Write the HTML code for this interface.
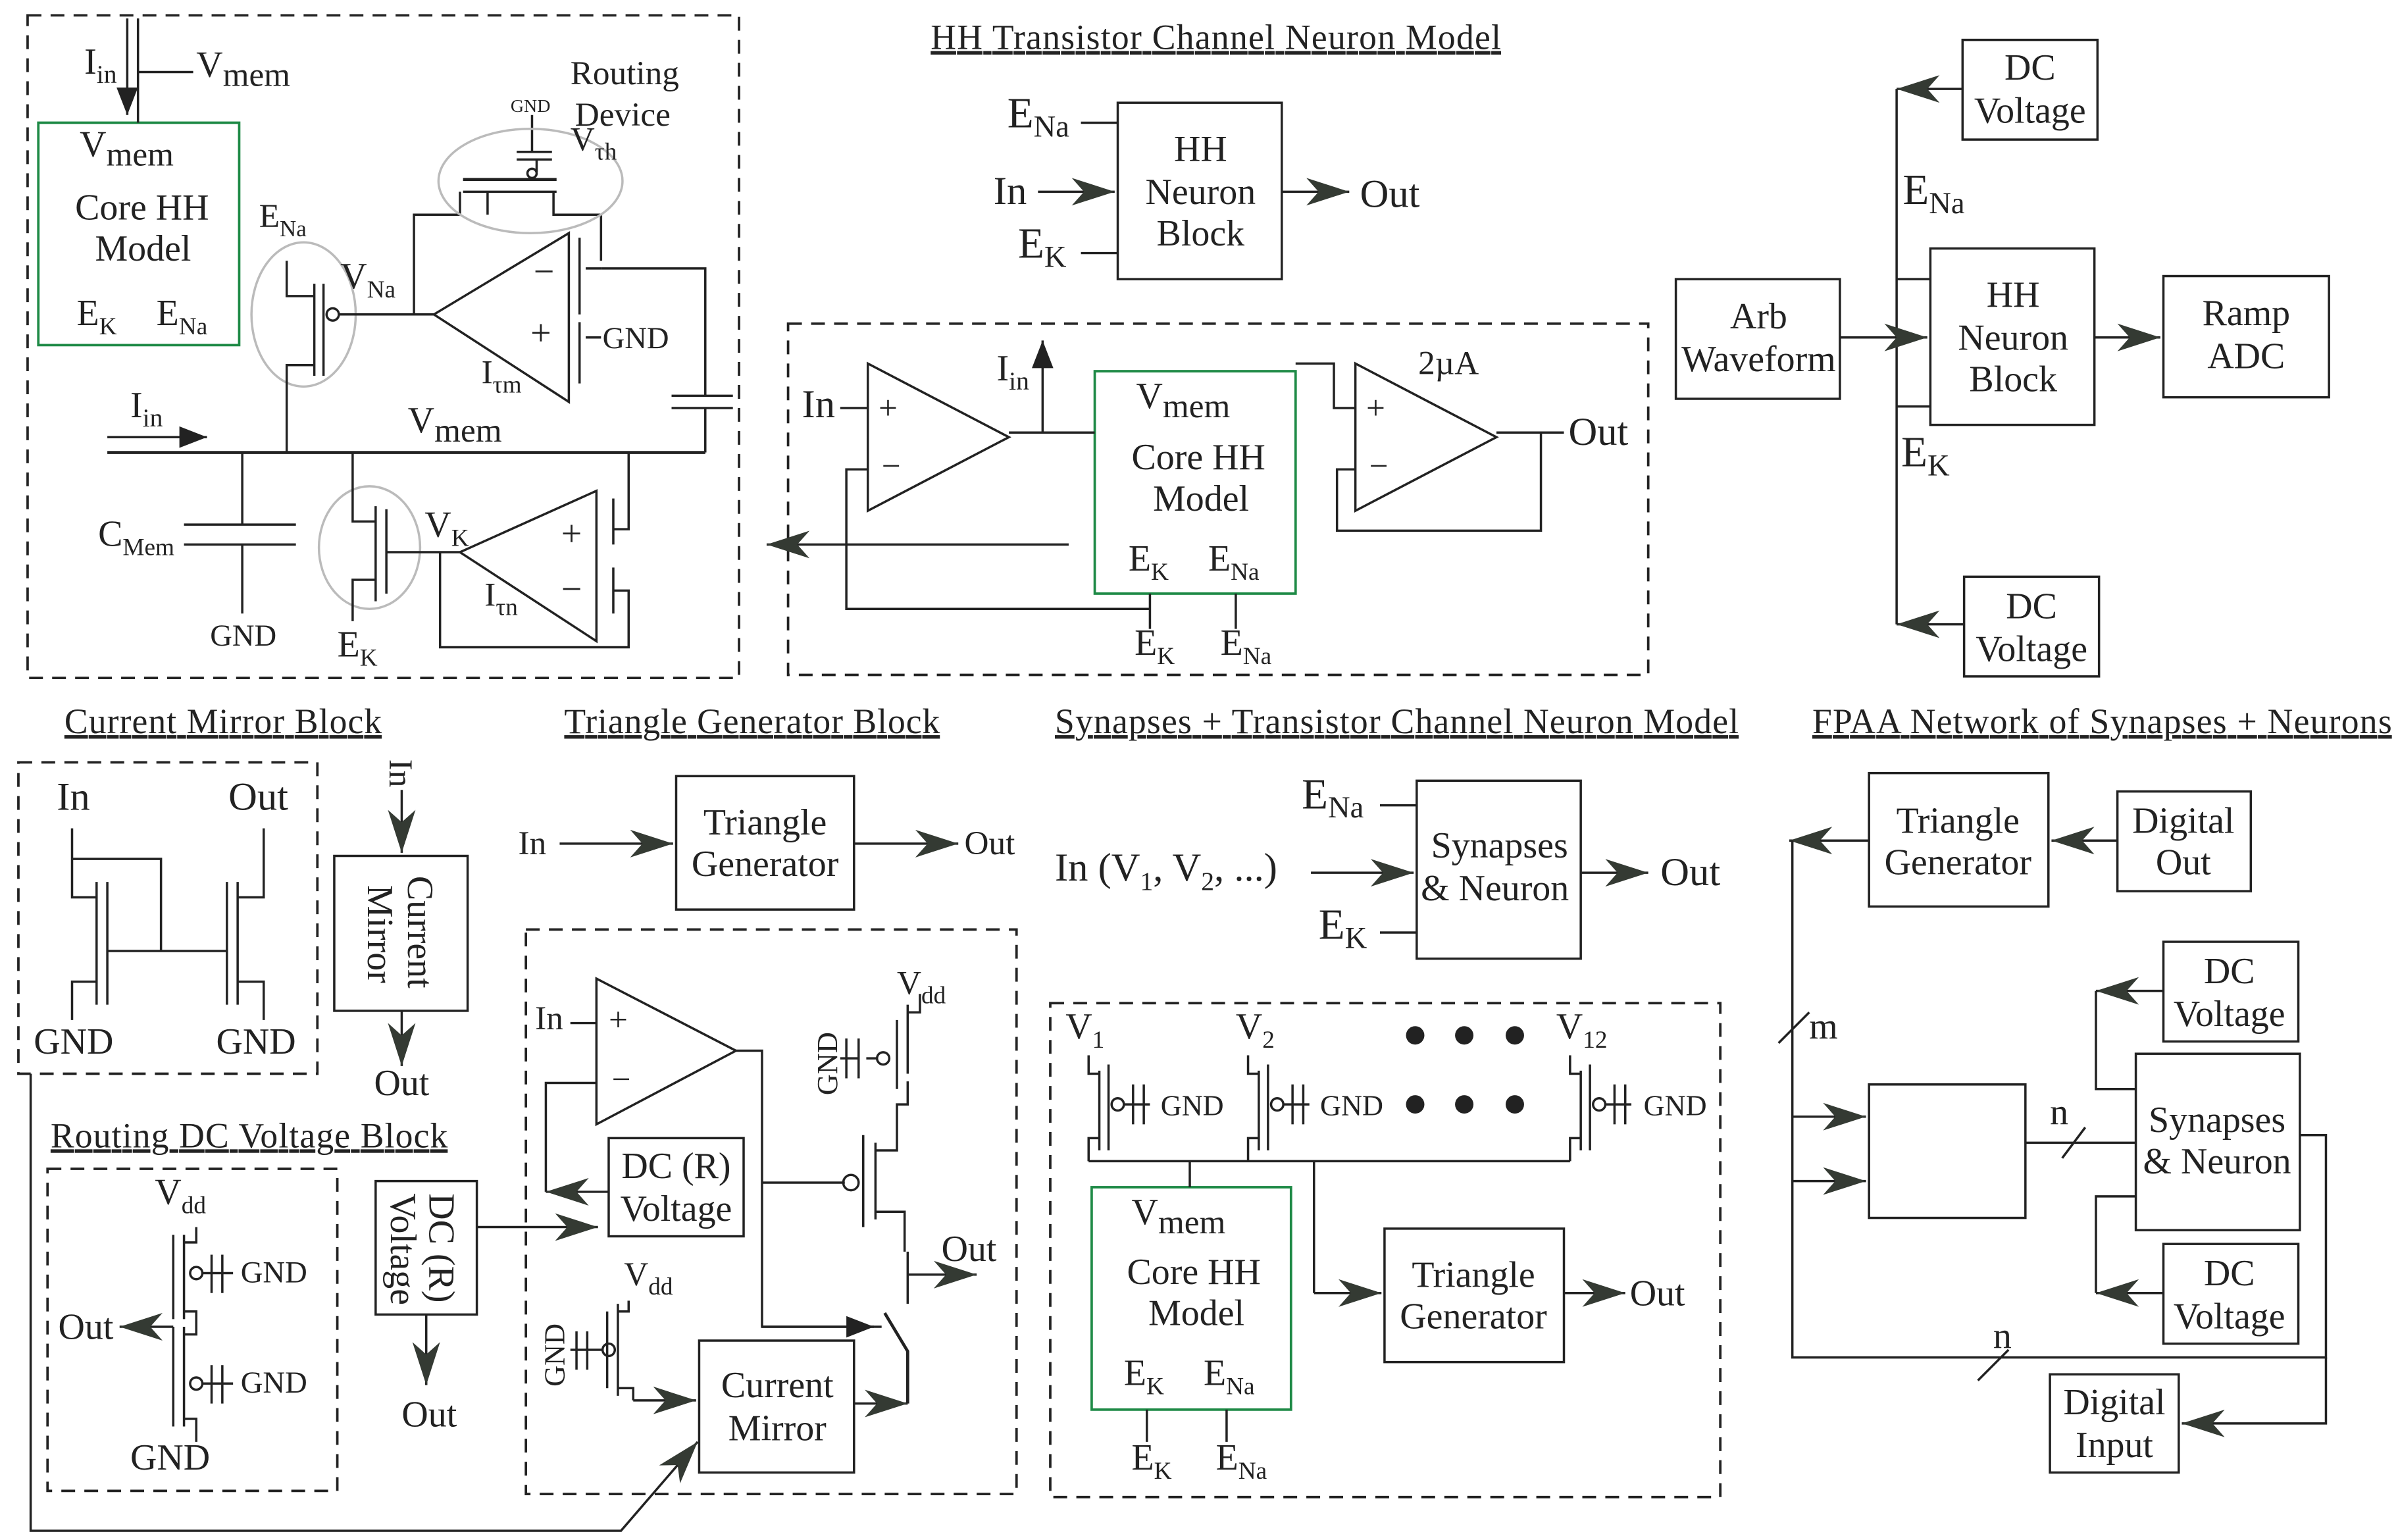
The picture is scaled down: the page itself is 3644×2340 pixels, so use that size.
<!DOCTYPE html>
<html><head><meta charset="utf-8"><style>
html,body{margin:0;padding:0;background:#fff;}
svg{display:block;}
text{font-family:"Liberation Serif",serif;fill:#222;}
</style></head><body>
<svg width="3644" height="2340" viewBox="0 0 1564 1004" preserveAspectRatio="none" xmlns="http://www.w3.org/2000/svg">
<defs>
<marker id="a" markerUnits="userSpaceOnUse" markerWidth="30" markerHeight="20" refX="28" refY="10" orient="auto" viewBox="0 0 30 20">
<path d="M0,1 L28,10 L0,19 L8,10 Z" fill="#343a33"/></marker>
<marker id="b" markerUnits="userSpaceOnUse" markerWidth="20" markerHeight="20" refX="18" refY="8" orient="auto" viewBox="0 0 20 16">
<path d="M0,1 L18,8 L0,15 Z" fill="#222"/></marker>
</defs>
<rect width="1564" height="1004" fill="#fff"/>
<g fill="none" stroke="#222" stroke-width="1.5">
<g stroke-dasharray="9,6" stroke-width="1.6">
<rect x="18" y="10" width="464" height="432"/>
<rect x="514" y="211" width="561" height="229"/>
<rect x="12" y="497" width="195" height="203"/>
<rect x="31" y="762" width="189" height="210"/>
<rect x="343" y="606" width="320" height="368"/>
<rect x="685" y="654" width="437" height="322"/>
</g>
<g stroke="#1e8a46" stroke-width="1.6">
<rect x="25" y="80" width="131" height="145"/>
<rect x="714" y="242" width="131" height="145"/>
<rect x="712" y="774" width="130" height="145"/>
</g>
<rect x="729" y="67" width="107" height="115"/>
<rect x="1280" y="26" width="88" height="65"/>
<rect x="1093" y="182" width="107" height="78"/>
<rect x="1259" y="162" width="107" height="115"/>
<rect x="1411" y="180" width="108" height="79"/>
<rect x="1281" y="376" width="88" height="65"/>
<rect x="218" y="558" width="87" height="101"/>
<rect x="245" y="770" width="66" height="87"/>
<rect x="441" y="506" width="116" height="87"/>
<rect x="397" y="742" width="88" height="64"/>
<rect x="456" y="874" width="101" height="86"/>
<rect x="924" y="509" width="107" height="116"/>
<rect x="903" y="801" width="117" height="87"/>
<rect x="1219" y="504" width="117" height="87"/>
<rect x="1381" y="516" width="87" height="65"/>
<rect x="1219" y="707" width="102" height="87"/>
<rect x="1393" y="687" width="107" height="115"/>
<rect x="1411" y="614" width="88" height="65"/>
<rect x="1411" y="811" width="88" height="65"/>
<rect x="1337" y="896" width="84" height="64"/>

<!-- top-left circuit -->
<path d="M83,12 V75" marker-end="url(#b)"/>
<path d="M90,12 V80 M90,47 H126"/>
<ellipse cx="198" cy="205" rx="34" ry="47" stroke="#bbb"/>
<path d="M187,170 V193 H205 M205,185 V245 M211,185 V245 M205,238 H187 V295"/>
<circle cx="217" cy="205" r="4"/>
<path d="M221,205 H283"/>
<path d="M371,152 V262 L283,205 Z"/>
<path d="M270,205 V140 H300 V125 M361,125 V140 H392 V170 M392,175 H460 V258"/>
<path d="M302,117 H363" stroke-width="2"/>
<path d="M302,125 H363"/>
<path d="M318,125 V140 M350,112 V104 M337,104 H360 M337,99 H360 M347,99 V75"/>
<circle cx="347" cy="113" r="3"/>
<ellipse cx="346" cy="118" rx="60" ry="34" stroke="#bbb"/>
<path d="M378,155 V205 M378,210 V250 M382,175 H392 M382,220 H392"/>
<path d="M438,258 H478 M438,266 H478 M460,266 V295"/>
<path d="M70,285 H135" marker-end="url(#b)"/>
<path d="M70,295 H460" stroke-width="2"/>
<path d="M158,295 V342 M120,342 H193 M120,355 H193 M158,355 V400"/>
<ellipse cx="241" cy="357" rx="33" ry="40" stroke="#bbb"/>
<path d="M230,295 V340 H245 M245,330 V392 M252,332 V387 M252,360 H300 M245,378 H230 V405"/>
<path d="M389,320 V418 L300,360 Z"/>
<path d="M287,360 V422 H410 V385 H400 M400,370 V400 M400,325 V355 M400,345 H410 V295"/>

<!-- HH top -->
<path d="M705,80 H729 M705,165 H729"/>
<path d="M677,125 H727" marker-end="url(#a)"/>
<path d="M836,125 H880" marker-end="url(#a)"/>
<path d="M566,237 V333 L658,285 Z"/>
<path d="M548,266 H566 M658,282 H714"/>
<path d="M680,282 V222" marker-end="url(#b)"/>
<path d="M566,306 H552 V397 H750 V410 M750,387 V397 M806,387 V410"/>
<path d="M697,355 H500" marker-end="url(#a)"/>
<path d="M884,237 V333 L976,285 Z"/>
<path d="M845,237 H870 V266 H884 M976,282 H1020 M1005,282 V346 H872 V306 H884"/>

<!-- right top -->
<path d="M1237,58 V407 M1237,182 H1259 M1237,265 H1259"/>
<path d="M1280,58 H1237" marker-end="url(#a)"/>
<path d="M1281,407 H1237" marker-end="url(#a)"/>
<path d="M1200,220 H1257" marker-end="url(#a)"/>
<path d="M1366,220 H1409" marker-end="url(#a)"/>

<!-- current mirror -->
<path d="M47,540 V585 H63 M63,575 V655 M70,575 V655 M63,640 H47 V665 M47,560 H105 V620 M70,620 H148 M148,575 V655 M155,575 V655 M172,540 V585 H155 M155,640 H172 V665"/>
<path d="M262,515 V556" marker-end="url(#a)"/>
<path d="M262,659 V695" marker-end="url(#a)"/>
<path d="M20,700 V998 H405 L455,940" marker-end="url(#a)"/>

<!-- routing dc -->
<path d="M128,800 V810 H120 M120,805 V860 M113,805 V860 M120,855 H128 V870 H120 M120,865 V930 M113,865 V930 M120,925 H128 V940"/>
<circle cx="128" cy="830" r="4"/><circle cx="128" cy="902" r="4"/>
<path d="M132,830 H152 M138,818 V843 M145,818 V843 M132,902 H152 M138,890 V915 M145,890 V915"/>
<path d="M113,865 H78" marker-end="url(#a)"/>
<path d="M311,800 H390" marker-end="url(#a)"/>
<path d="M278,857 V903" marker-end="url(#a)"/>

<!-- triangle generator -->
<path d="M365,550 H439" marker-end="url(#a)"/>
<path d="M557,550 H625" marker-end="url(#a)"/>
<path d="M389,638 V733 L480,685 Z"/>
<path d="M372,667 H389 M480,685 H497 V865 H575"/>
<path d="M497,865 H570" marker-end="url(#b)"/>
<path d="M389,706 H356 V777"/>
<path d="M397,777 H356" marker-end="url(#a)"/>
<path d="M497,771 H551"/><circle cx="555" cy="771" r="5"/>
<path d="M563,740 V800 M571,745 V795 M571,750 H585 V720 H592 V705 M592,700 V655 M585,665 V710 M592,660 H600 V648 M571,790 H590 V816 M592,816 V850"/>
<circle cx="576" cy="690" r="4"/>
<path d="M548,690 H560 M552,677 V703 M560,677 V703 M565,690 H572"/>
<path d="M592,831 H637" marker-end="url(#a)"/>
<path d="M410,848 V855 H403 M403,850 V910 M396,855 V905 M403,905 H413 V913"/>
<circle cx="397" cy="880" r="4"/>
<path d="M393,880 H372 M376,868 V893 M383,868 V893"/>
<path d="M413,913 H454" marker-end="url(#a)"/>
<path d="M557,915 H592" marker-end="url(#a)"/>
<path d="M592,915 V881 L577,856" stroke-width="2"/>

<!-- synapses -->
<path d="M900,525 H924 M900,608 H924"/>
<path d="M855,569 H922" marker-end="url(#a)"/>
<path d="M1031,569 H1075" marker-end="url(#a)"/>
<path d="M710,688 V700 H717 M717,698 V750 M723,694 V750 M717,742 H710 V757
 M814,688 V700 H821 M821,698 V750 M827,694 V750 M821,742 H814 V757
 M1024,688 V700 H1031 M1031,698 V750 M1037,694 V750 M1031,742 H1024 V757"/>
<circle cx="729" cy="720" r="4"/><circle cx="833" cy="720" r="4"/><circle cx="1043" cy="720" r="4"/>
<path d="M733,720 H750 M739,707 V733 M746,707 V733 M837,720 H854 M843,707 V733 M850,707 V733 M1047,720 H1064 M1053,707 V733 M1060,707 V733"/>
<path d="M710,757 H1024 M776,757 V774 M857,757 V843"/>
<path d="M857,843 H901" marker-end="url(#a)"/>
<path d="M1020,843 H1060" marker-end="url(#a)"/>
<path d="M748,919 V940 M800,919 V940"/>

<!-- FPAA -->
<path d="M1381,548 H1338" marker-end="url(#a)"/>
<path d="M1219,548 H1167" marker-end="url(#a)"/>
<path d="M1169,548 V885 H1517 V740 H1500"/>
<path d="M1160,680 L1180,660 M1290,900 L1310,880 M1345,755 L1360,735"/>
<path d="M1169,728 H1217" marker-end="url(#a)"/>
<path d="M1169,770 H1217" marker-end="url(#a)"/>
<path d="M1321,745 H1393"/>
<path d="M1367,646 V710 H1393 M1393,780 H1367 V843"/>
<path d="M1411,646 H1367" marker-end="url(#a)"/>
<path d="M1411,843 H1367" marker-end="url(#a)"/>
<path d="M1517,885 V928 H1423" marker-end="url(#a)"/>
</g>

<g fill="#222" stroke="none">
<circle cx="923" cy="675" r="6"/><circle cx="955" cy="675" r="6"/><circle cx="988" cy="675" r="6"/>
<circle cx="923" cy="720" r="6"/><circle cx="955" cy="720" r="6"/><circle cx="988" cy="720" r="6"/>
</g>

<g font-size="24">
<text x="55" y="48">I<tspan font-size="17" dy="6">in</tspan></text>
<text x="128" y="50">V<tspan font-size="22" dy="6">mem</tspan></text>
<text x="52" y="102">V<tspan font-size="22" dy="6">mem</tspan></text>
<text x="49" y="143">Core HH</text>
<text x="62" y="170">Model</text>
<text x="50" y="212">E<tspan font-size="16" dy="6">K</tspan></text>
<text x="102" y="212">E<tspan font-size="16" dy="6">Na</tspan></text>
<text x="169" y="148" font-size="22">E<tspan font-size="15" dy="6">Na</tspan></text>
<text x="222" y="188">V<tspan font-size="16" dy="6">Na</tspan></text>
<text x="372" y="55" font-size="22">Routing</text>
<text x="375" y="82" font-size="22">Device</text>
<text x="333" y="73" font-size="12" fill="#444">GND</text>
<text x="372" y="98" font-size="22">V<tspan font-size="16" dy="6">τh</tspan></text>
<text x="348" y="185">−</text><text x="346" y="225">+</text>
<text x="393" y="227" font-size="20" fill="#444">GND</text>
<text x="314" y="250" font-size="22">I<tspan font-size="16" dy="6">τm</tspan></text>
<text x="85" y="272">I<tspan font-size="17" dy="6">in</tspan></text>
<text x="266" y="282">V<tspan font-size="22" dy="6">mem</tspan></text>
<text x="64" y="356">C<tspan font-size="16" dy="6">Mem</tspan></text>
<text x="137" y="421" font-size="20" fill="#444">GND</text>
<text x="277" y="350">V<tspan font-size="16" dy="6">K</tspan></text>
<text x="366" y="356">+</text><text x="366" y="392">−</text>
<text x="316" y="395" font-size="22">I<tspan font-size="16" dy="6">τn</tspan></text>
<text x="220" y="428">E<tspan font-size="16" dy="6">K</tspan></text>

<text x="607" y="32" font-size="23" text-decoration="underline" textLength="372">HH Transistor Channel Neuron Model</text>
<text x="657" y="83" font-size="28">E<tspan font-size="20" dy="6">Na</tspan></text>
<text x="648" y="133" font-size="26">In</text>
<text x="664" y="168" font-size="28">E<tspan font-size="20" dy="6">K</tspan></text>
<text x="783" y="105" text-anchor="middle">HH</text>
<text x="783" y="133" text-anchor="middle">Neuron</text>
<text x="783" y="160" text-anchor="middle">Block</text>
<text x="887" y="135" font-size="26">Out</text>
<text x="523" y="272" font-size="26">In</text>
<text x="573" y="273" font-size="22">+</text><text x="575" y="311" font-size="22">−</text>
<text x="650" y="248">I<tspan font-size="17" dy="6">in</tspan></text>
<text x="741" y="266">V<tspan font-size="22" dy="6">mem</tspan></text>
<text x="738" y="306">Core HH</text>
<text x="752" y="333">Model</text>
<text x="736" y="372">E<tspan font-size="16" dy="6">K</tspan></text>
<text x="788" y="372">E<tspan font-size="16" dy="6">Na</tspan></text>
<text x="740" y="427">E<tspan font-size="16" dy="6">K</tspan></text>
<text x="796" y="427">E<tspan font-size="16" dy="6">Na</tspan></text>
<text x="891" y="273" font-size="22">+</text><text x="893" y="311" font-size="22">−</text>
<text x="925" y="244" font-size="22">2µA</text>
<text x="1023" y="290" font-size="26">Out</text>

<text x="1324" y="52" text-anchor="middle">DC</text>
<text x="1324" y="80" text-anchor="middle">Voltage</text>
<text x="1241" y="133" font-size="28">E<tspan font-size="20" dy="6">Na</tspan></text>
<text x="1147" y="214" text-anchor="middle">Arb</text>
<text x="1147" y="242" text-anchor="middle">Waveform</text>
<text x="1313" y="200" text-anchor="middle">HH</text>
<text x="1313" y="228" text-anchor="middle">Neuron</text>
<text x="1313" y="255" text-anchor="middle">Block</text>
<text x="1465" y="212" text-anchor="middle">Ramp</text>
<text x="1465" y="240" text-anchor="middle">ADC</text>
<text x="1240" y="304" font-size="28">E<tspan font-size="20" dy="6">K</tspan></text>
<text x="1325" y="403" text-anchor="middle">DC</text>
<text x="1325" y="431" text-anchor="middle">Voltage</text>

<text x="42" y="478" font-size="23" text-decoration="underline" textLength="207">Current Mirror Block</text>
<text x="368" y="478" font-size="23" text-decoration="underline" textLength="245">Triangle Generator Block</text>
<text x="688" y="478" font-size="23" text-decoration="underline" textLength="446">Synapses + Transistor Channel Neuron Model</text>
<text x="1182" y="478" font-size="23" text-decoration="underline" textLength="378">FPAA Network of Synapses + Neurons</text>

<text x="37" y="528" font-size="26">In</text>
<text x="149" y="528" font-size="26">Out</text>
<text x="22" y="687">GND</text>
<text x="141" y="687">GND</text>
<text transform="translate(254,495) rotate(90)" font-size="22">In</text>
<text transform="translate(266,571) rotate(90)">Current</text>
<text transform="translate(240,577) rotate(90)">Mirror</text>
<text x="244" y="714">Out</text>
<text x="33" y="748" font-size="23" text-decoration="underline" textLength="259">Routing DC Voltage Block</text>
<text x="101" y="785">V<tspan font-size="16" dy="6">dd</tspan></text>
<text x="157" y="836" font-size="20" fill="#444">GND</text>
<text x="157" y="908" font-size="20" fill="#444">GND</text>
<text x="38" y="873">Out</text>
<text x="85" y="958">GND</text>
<text transform="translate(280,778) rotate(90)">DC (R)</text>
<text transform="translate(255,778) rotate(90)">Voltage</text>
<text x="262" y="930">Out</text>

<text x="338" y="557" font-size="22">In</text>
<text x="499" y="544" text-anchor="middle">Triangle</text>
<text x="499" y="571" text-anchor="middle">Generator</text>
<text x="629" y="557" font-size="22">Out</text>
<text x="349" y="671" font-size="22">In</text>
<text x="397" y="672" font-size="22">+</text><text x="399" y="711" font-size="22">−</text>
<text x="441" y="768" text-anchor="middle">DC (R)</text>
<text x="441" y="796" text-anchor="middle">Voltage</text>
<text x="585" y="648" font-size="22">V<tspan font-size="16" dy="6">dd</tspan></text>
<text transform="translate(546,714) rotate(-90)" font-size="19" fill="#444">GND</text>
<text x="614" y="822">Out</text>
<text x="407" y="838" font-size="22">V<tspan font-size="16" dy="6">dd</tspan></text>
<text transform="translate(368,904) rotate(-90)" font-size="19" fill="#444">GND</text>
<text x="507" y="911" text-anchor="middle">Current</text>
<text x="507" y="939" text-anchor="middle">Mirror</text>

<text x="849" y="527" font-size="28">E<tspan font-size="20" dy="6">Na</tspan></text>
<text x="688" y="574" font-size="26">In (V<tspan font-size="17" dy="6">1</tspan><tspan dy="-6">, V</tspan><tspan font-size="17" dy="6">2</tspan><tspan dy="-6">, ...)</tspan></text>
<text x="860" y="612" font-size="28">E<tspan font-size="20" dy="6">K</tspan></text>
<text x="978" y="559" text-anchor="middle">Synapses</text>
<text x="975" y="587" text-anchor="middle">&amp; Neuron</text>
<text x="1083" y="577" font-size="26">Out</text>
<text x="695" y="677">V<tspan font-size="16" dy="6">1</tspan></text>
<text x="806" y="677">V<tspan font-size="16" dy="6">2</tspan></text>
<text x="1015" y="677">V<tspan font-size="16" dy="6">12</tspan></text>
<text x="757" y="727" font-size="19" fill="#444">GND</text>
<text x="861" y="727" font-size="19" fill="#444">GND</text>
<text x="1072" y="727" font-size="19" fill="#444">GND</text>
<text x="738" y="798">V<tspan font-size="22" dy="6">mem</tspan></text>
<text x="735" y="837">Core HH</text>
<text x="749" y="864">Model</text>
<text x="733" y="903">E<tspan font-size="16" dy="6">K</tspan></text>
<text x="785" y="903">E<tspan font-size="16" dy="6">Na</tspan></text>
<text x="738" y="958">E<tspan font-size="16" dy="6">K</tspan></text>
<text x="793" y="958">E<tspan font-size="16" dy="6">Na</tspan></text>
<text x="961" y="839" text-anchor="middle">Triangle</text>
<text x="961" y="866" text-anchor="middle">Generator</text>
<text x="1063" y="851">Out</text>

<text x="1277" y="543" text-anchor="middle">Triangle</text>
<text x="1277" y="570" text-anchor="middle">Generator</text>
<text x="1424" y="543" text-anchor="middle">Digital</text>
<text x="1424" y="570" text-anchor="middle">Out</text>
<text x="1180" y="677">m</text>
<text x="1454" y="641" text-anchor="middle">DC</text>
<text x="1454" y="669" text-anchor="middle">Voltage</text>
<text x="1337" y="733">n</text>
<text x="1446" y="738" text-anchor="middle">Synapses</text>
<text x="1446" y="765" text-anchor="middle">&amp; Neuron</text>
<text x="1454" y="838" text-anchor="middle">DC</text>
<text x="1454" y="866" text-anchor="middle">Voltage</text>
<text x="1300" y="879">n</text>
<text x="1379" y="922" text-anchor="middle">Digital</text>
<text x="1379" y="950" text-anchor="middle">Input</text>
</g>
</svg>
</body></html>
